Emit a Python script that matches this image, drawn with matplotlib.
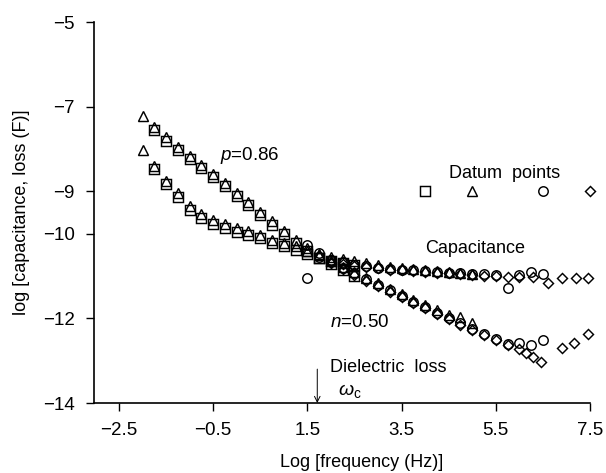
import matplotlib.pyplot as plt

plt.rcParams['font.family'] = ['Liberation Sans', 'DejaVu Sans']
plt.rcParams['mathtext.fontset'] = 'custom'
plt.rcParams['mathtext.rm'] = 'Liberation Sans'
plt.rcParams['mathtext.it'] = 'Liberation Sans:italic'

# squares (low frequency set)
sq_x = [-1.75, -1.5, -1.25, -1.0, -0.75, -0.5, -0.25, 0.0, 0.25, 0.5, 0.75, 1.0,
        1.25, 1.5, 1.75, 2.0, 2.25, 2.5]
sq_loss = [-7.55, -7.80, -8.03, -8.24, -8.45, -8.66, -8.88, -9.11, -9.33, -9.56, -9.79, -10.01,
           -10.22, -10.42, -10.58, -10.72, -10.86, -10.99]
sq_cap = [-8.48, -8.83, -9.13, -9.43, -9.62, -9.76, -9.86, -9.95, -10.02, -10.11, -10.23, -10.30,
          -10.38, -10.48, -10.57, -10.64, -10.69, -10.73]

# triangles
tri_x = [-2.0, -1.75, -1.5, -1.25, -1.0, -0.75, -0.5, -0.25, 0.0, 0.25, 0.5, 0.75, 1.0,
         1.25, 1.5, 1.75, 2.0, 2.25, 2.5, 2.75, 3.0, 3.25, 3.5, 3.75, 4.0, 4.25, 4.5, 4.75, 5.0]
tri_loss = [-7.23, -7.47, -7.72, -7.95, -8.16, -8.37, -8.58, -8.80, -9.03, -9.25, -9.48, -9.71, -9.93,
            -10.14, -10.34, -10.50, -10.64, -10.78, -10.91, -11.04, -11.17, -11.30, -11.43, -11.56,
            -11.69, -11.81, -11.92, -11.98, -12.12]
tri_cap = [-8.03, -8.40, -8.75, -9.05, -9.35, -9.54, -9.68, -9.78, -9.87, -9.94, -10.03, -10.15, -10.22,
           -10.30, -10.40, -10.49, -10.56, -10.61, -10.65, -10.70, -10.74, -10.78, -10.81, -10.84,
           -10.86, -10.88, -10.90, -10.92, -10.95]

# circles
circ_x = [1.5, 1.75, 2.0, 2.25, 2.5, 2.75, 3.0, 3.25, 3.5, 3.75, 4.0, 4.25, 4.5, 4.75, 5.0,
          5.25, 5.5, 5.75, 6.0, 6.25, 6.5]
circ_cap = [-11.05, -10.55, -10.62, -10.68, -10.73, -10.77, -10.80, -10.83, -10.85, -10.87, -10.89,
            -10.90, -10.92, -10.93, -10.95, -10.96, -10.98, -11.29, -10.97, -10.90, -10.95]
circ_loss = [-10.27, -10.45, -10.63, -10.80, -10.94, -11.07, -11.21, -11.34, -11.47, -11.61, -11.74,
             -11.87, -12.00, -12.12, -12.25, -12.37, -12.48, -12.60, -12.58, -12.63, -12.51]

# diamonds
dia_cap_x = [2.0, 2.25, 2.5, 2.75, 3.0, 3.25, 3.5, 3.75, 4.0, 4.25, 4.5, 4.75, 5.0, 5.25, 5.5,
             5.75, 6.0, 6.3, 6.6, 6.9, 7.2, 7.45]
dia_cap = [-10.66, -10.71, -10.76, -10.79, -10.82, -10.85, -10.87, -10.89, -10.91, -10.93, -10.94,
           -10.96, -10.97, -10.99, -11.00, -11.02, -11.03, -11.02, -11.17, -11.05, -11.05, -11.05]
dia_loss_x = [2.0, 2.25, 2.5, 2.75, 3.0, 3.25, 3.5, 3.75, 4.0, 4.25, 4.5, 4.75, 5.0, 5.25, 5.5,
              5.75, 6.0, 6.15, 6.3, 6.45, 6.9, 7.15, 7.45]
dia_loss = [-10.70, -10.84, -10.98, -11.11, -11.24, -11.37, -11.50, -11.63, -11.76, -11.89, -12.02,
            -12.15, -12.28, -12.40, -12.50, -12.62, -12.72, -12.82, -12.92, -13.03, -12.70, -12.58, -12.37]

# datum legend row
datum_x = [4.0, 5.0, 6.5, 7.5]
datum_y = -9
datum_markers = ['s', '^', 'o', 'D']

yticks = [-5, -7, -9, -10, -12, -14]
xticks = [-2.5, -0.5, 1.5, 3.5, 5.5, 7.5]
omega_c = 1.71

fig = plt.figure(figsize=(6.06, 4.73), dpi=100)
ax = fig.add_axes([94/606, 1 - 403/473, 496/606, 381/473])

style = dict(ls='none', mec='black', mfc='none', mew=1.05, clip_on=False)
sizes = {'s': 6.5, '^': 6.8, 'o': 6.8, 'D': 5.0}

ax.plot(sq_x, sq_loss, marker='s', ms=sizes['s'], **style)
ax.plot(sq_x, sq_cap, marker='s', ms=sizes['s'], **style)
ax.plot(tri_x, tri_loss, marker='^', ms=sizes['^'], **style)
ax.plot(tri_x, tri_cap, marker='^', ms=sizes['^'], **style)
ax.plot(circ_x, circ_cap, marker='o', ms=sizes['o'], **style)
ax.plot(circ_x, circ_loss, marker='o', ms=sizes['o'], **style)
ax.plot(dia_cap_x, dia_cap, marker='D', ms=sizes['D'], **style)
ax.plot(dia_loss_x, dia_loss, marker='D', ms=sizes['D'], **style)

for x, m in zip(datum_x, datum_markers):
    ax.plot([x], [datum_y], marker=m, ms=sizes[m], **style)

ax.text(4.5, -8.58, 'Datum  points', fontsize=13, va='center')
ax.text(4.01, -10.34, 'Capacitance', fontsize=13, va='center')
ax.text(-0.35, -8.15, '$p$=0.86', fontsize=13.5, va='center')
ax.text(1.99, -12.09, '$n$=0.50', fontsize=13.5, va='center')
ax.text(1.99, -13.15, 'Dielectric  loss', fontsize=13, va='center')
ax.text(2.14, -13.72, r'$\omega_\mathrm{c}$', fontsize=14, va='center')
ax.annotate('', xy=(omega_c, -14), xytext=(omega_c, -13.2),
            arrowprops=dict(arrowstyle='->', lw=0.7, color='black', shrinkA=0, shrinkB=0))

ax.set_xlim(-3.03, 7.5)
ax.set_ylim(-14, -5)
ax.set_xticks(xticks)
ax.set_xticklabels(['\u22122.5', '\u22120.5', '1.5', '3.5', '5.5', '7.5'])
ax.set_yticks(yticks)
ax.set_yticklabels(['\u22125', '\u22127', '\u22129', '\u221210', '\u221212', '\u221214'])
ax.spines['top'].set_visible(False)
ax.spines['right'].set_visible(False)
ax.spines['left'].set_linewidth(1.2)
ax.spines['bottom'].set_linewidth(1.2)
ax.tick_params(direction='out', length=6, width=1, labelsize=13.5)
ax.tick_params(axis='y', pad=8)
ax.tick_params(axis='x', pad=8)

ax.set_xlabel('Log [frequency (Hz)]', fontsize=13)
ax.xaxis.set_label_coords(0.54, -0.135)
ax.set_ylabel('log [capacitance, loss (F)]', fontsize=13)
ax.yaxis.set_label_coords(-0.13, 0.5)

fig.savefig('out.png', dpi=100)
